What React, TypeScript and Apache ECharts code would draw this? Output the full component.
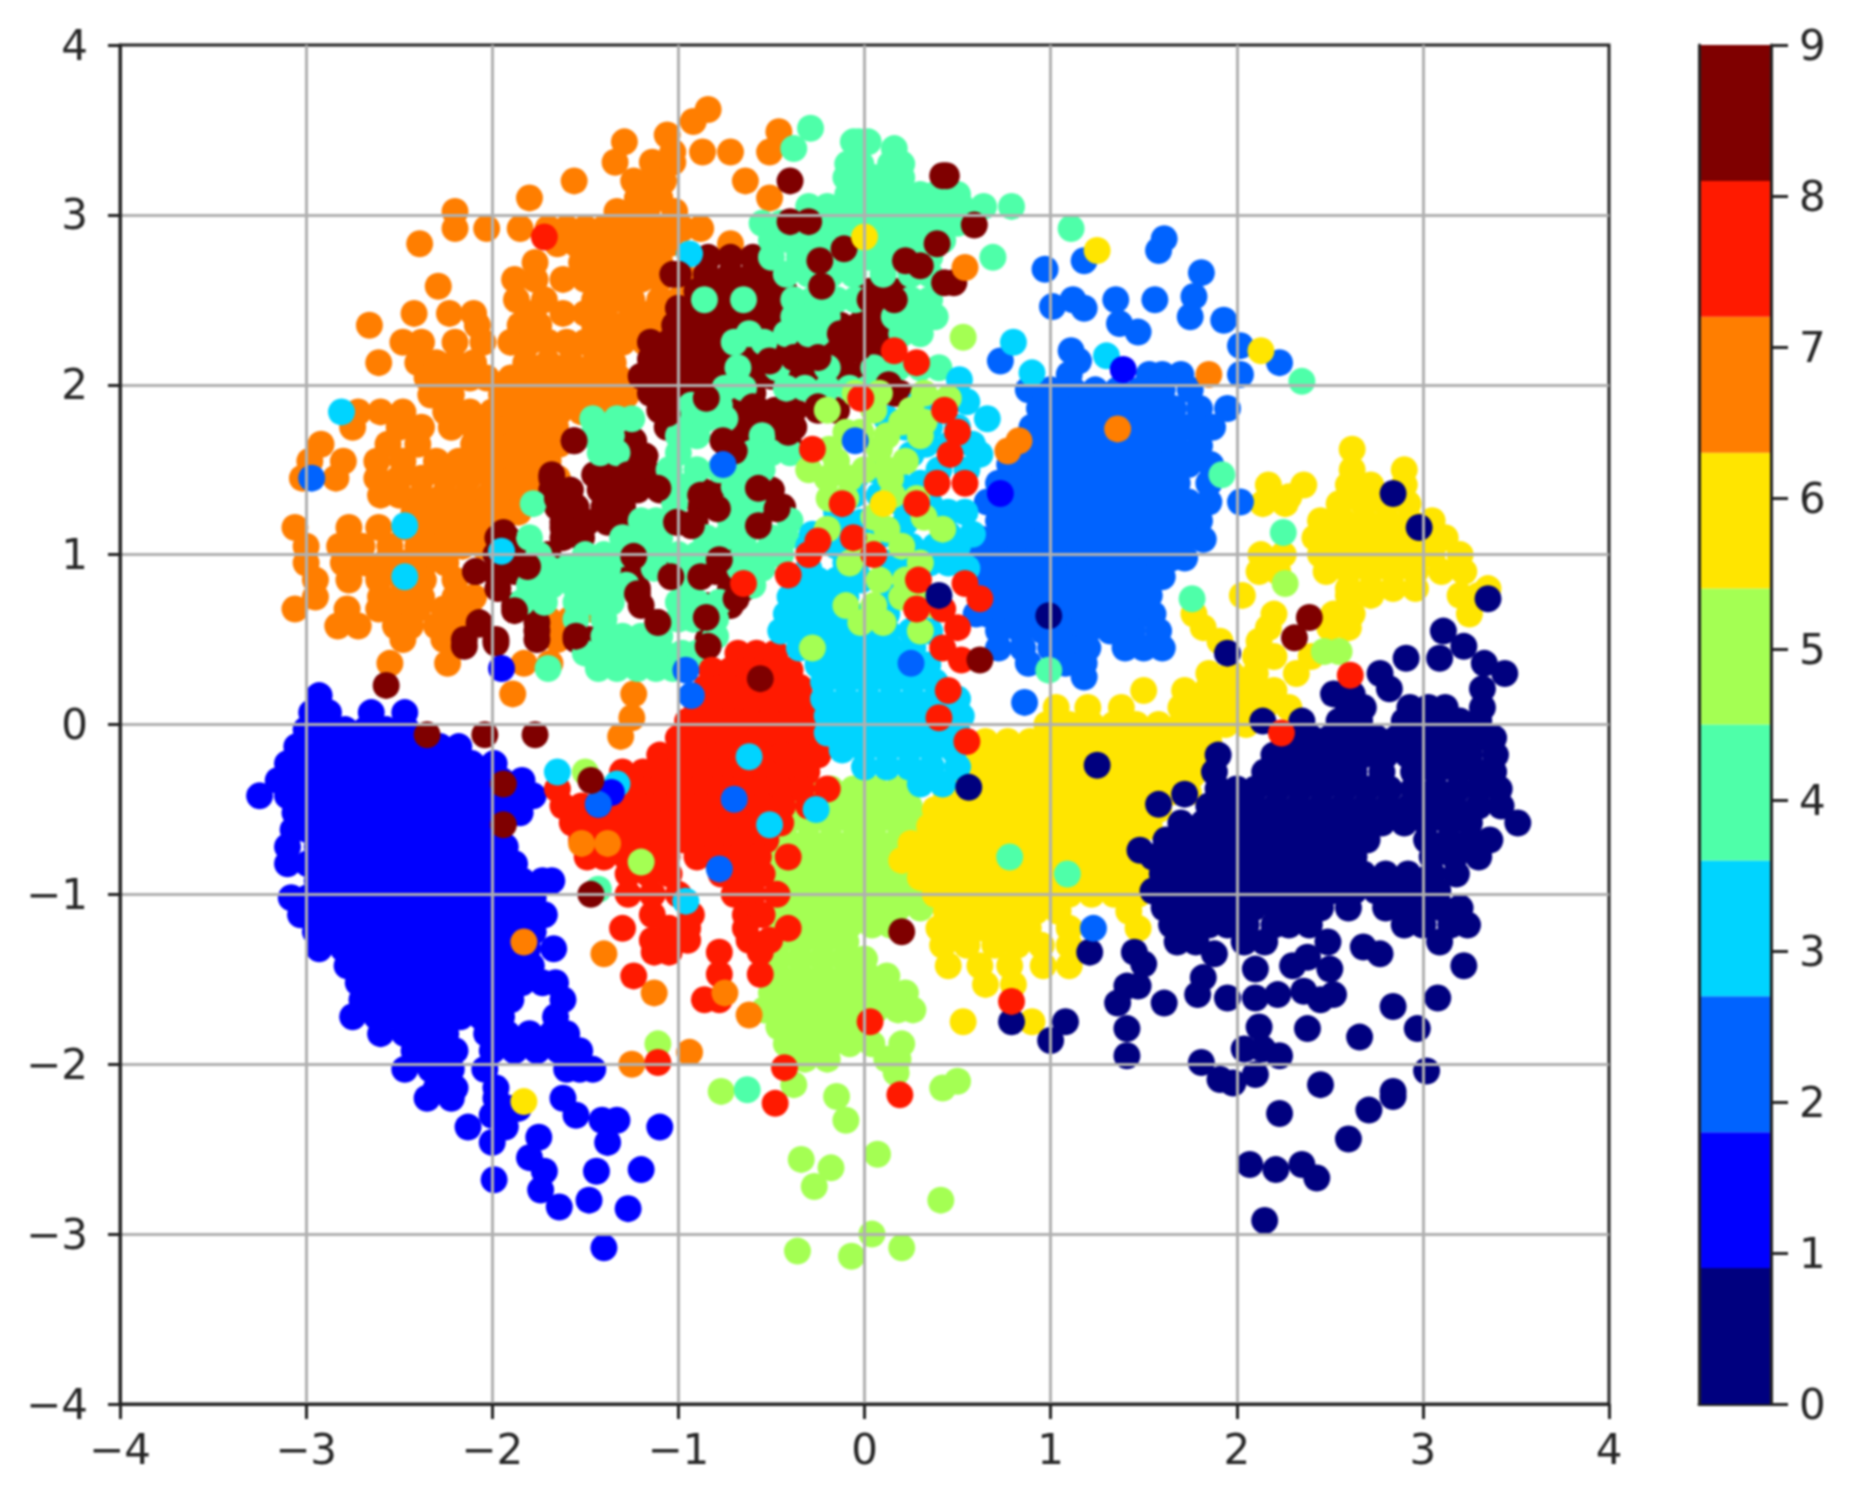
import * as echarts from 'echarts';
import React, { useEffect, useRef } from 'react';

// every row is [y, x, x, x ...]
const digit7Rows = [
  [3.62, -0.84], [3.55, -0.92], [3.49, -0.46], [3.47, -1.06], [3.43, -1.29],
  [3.37, -1.03, -0.87, -0.72, -0.51], [3.31, -1.34, -1.14, -1.03], [3.2, -1.56, -1.24, -1.14, -1.08, -0.64],
  [3.1, -1.8, -1.22, -1.1, -0.51], [3.02, -2.2, -1.33, -1.25, -1.17, -1.02],
  [2.92, -2.2, -2.03, -1.85, -1.7, -1.6, -1.5, -1.4, -1.3, -1.2, -1.1, -0.98, -0.88],
  [2.83, -2.39, -1.65, -1.55, -1.45, -1.35, -1.25, -1.15, -1.05, -0.72],
  [2.72, -1.77, -1.52, -1.42, -1.32, -1.22, -1.1],
  [2.62, -1.88, -1.77, -1.62, -1.5, -1.4, -1.3, -1.2, -1.1, -0.95], [2.58, -2.29],
  [2.5, -1.87, -1.72, -1.45, -1.35, -1.25, -1.1, -1.0],
  [2.42, -2.42, -2.23, -2.1, -1.78, -1.62, -1.5, -1.4, -1.25, -1.15, -1.02],
  [2.35, -2.66, -2.08, -1.85, -1.75, -1.45, -1.35, -1.25, -1.13],
  [2.25, -2.48, -2.38, -2.2, -2.05, -1.9, -1.8, -1.7, -1.6, -1.5, -1.4, -1.3, -1.18, -1.08],
  [2.13, -2.61, -2.4, -2.3, -2.2, -2.1, -1.82, -1.7, -1.58, -1.45, -1.35],
  [2.04, -2.35, -2.25, -2.12, -2.03, -1.9, -1.78, -1.66, -1.55, -1.43, -1.32],
  [1.94, -2.33, -2.22, -1.95, -1.85, -1.73, -1.62, -1.5, -1.38, -1.28],
  [1.84, -2.72, -2.6, -2.48, -2.25, -2.12, -2.0, -1.88, -1.76, -1.64, -1.52, -1.4, -1.3],
  [1.75, -2.75, -2.5, -2.38, -2.22, -2.1, -2.0, -1.9, -1.78, -1.66],
  [1.65, -2.92, -2.56, -2.4, -2.1, -2.0, -1.88, -1.76, -1.64],
  [1.55, -2.98, -2.8, -2.62, -2.48, -2.3, -2.18, -2.06, -1.94, -1.82, -1.7],
  [1.45, -3.02, -2.84, -2.62, -2.5, -2.38, -2.25, -2.13, -2.0, -1.88, -1.76, -1.65],
  [1.35, -2.6, -2.5, -2.38, -2.26, -2.14, -2.02, -1.9, -1.84],
  [1.25, -2.42, -2.3, -2.18, -2.06, -1.94, -1.86],
  [1.16, -3.06, -2.77, -2.61, -2.47, -2.36, -2.24, -2.12, -2.0],
  [1.05, -3.0, -2.82, -2.7, -2.55, -2.4, -2.28, -2.16, -2.05],
  [0.95, -3.0, -2.8, -2.68, -2.58, -2.47, -2.36, -2.25],
  [0.85, -2.95, -2.77, -2.61, -2.48, -2.37, -2.2], [0.75, -2.95, -2.6, -2.5, -2.38, -2.2, -2.1],
  [0.68, -3.06, -2.78, -2.61, -2.5, -2.4, -2.26, -2.13, -1.47], [0.62, -1.7, -1.58],
  [0.58, -2.83, -2.72, -2.52, -2.44, -2.3, -2.2], [0.5, -2.48, -2.26, -2.18, -1.65],
  [0.36, -2.55, -2.24, -1.83, -1.69, -1.42], [0.18, -1.89, -1.24], [0.04, -1.25], [-0.07, -1.31],
];

const digit9Rows = [
  [2.75, -0.84, -0.72, -0.6, -0.24], [2.65, -1.03, -0.85, -0.72, -0.6, -0.48, -0.24],
  [2.55, -0.9, -0.8, -0.68, -0.55, -0.43, -0.23, 0.03, 0.16], [2.45, -1.0, -0.88, -0.76, -0.64, -0.52, -0.42, 0.0, 0.1],
  [2.35, -1.02, -0.9, -0.78, -0.66, -0.54, -0.42, -0.13, -0.03, 0.08],
  [2.25, -1.15, -1.05, -0.93, -0.81, -0.7, -0.58, -0.46, -0.36, -0.15, -0.03, 0.07],
  [2.15, -1.15, -1.03, -0.9, -0.8, -0.68, -0.56, -0.44, -0.32, -0.22, -0.12, 0.02, 0.1],
  [2.05, -1.2, -1.08, -0.96, -0.84, -0.72, -0.62, -0.5, -0.38, -0.28, -0.16, -0.05, 0.13],
  [1.95, -1.15, -1.03, -0.92, -0.82, -0.7, -0.6, -0.4, 0.16], [1.85, -1.1, -1.0, -0.85, -0.68, -0.57, -0.48, -0.38, -0.25, -0.15],
  [1.75, -1.06, -0.68, -0.57, -0.47, -0.38], [1.67, -1.56, -1.24, -0.76, -0.66, -0.41], [1.58, -1.28, -1.18, -0.72],
  [1.47, -1.68, -1.45, -1.38, -1.27, -1.15], [1.38, -1.68, -1.58, -1.42, -1.33, -1.22, -1.1, -0.88, -0.78, -0.57, -0.5],
  [1.28, -1.65, -1.55, -1.4, -1.3, -0.88, -0.78, -0.68, -0.5, -0.44], [1.19, -1.62, -1.5, -1.38, -1.28, -1.0, -0.91, -0.57],
  [1.1, -1.97, -1.92, -1.62, -1.52], [1.0, -1.98, -1.9, -1.8, -1.7, -1.25, -0.82, -0.72],
  [0.9, -2.09, -1.98, -1.88, -1.78, -1.25, -1.04, -0.88, -0.8], [0.8, -1.97, -1.22, -0.72, -0.65],
  [0.7, -1.88, -1.78, -1.2, -0.85, -0.72], [0.6, -2.07, -1.76, -1.11, -0.85], [0.5, -2.15, -1.98, -1.76, -1.55, -1.48, -0.84],
];

const digit4Rows = [
  [3.51, -0.29], [3.43, -0.06, -0.03, 0.02], [3.39, -0.38, 0.16], [3.3, -0.09, -0.02, 0.14, 0.2],
  [3.22, -0.1, -0.05, 0.05, 0.12, 0.2], [3.12, -0.09, 0.0, 0.08, 0.18, 0.3, 0.38, 0.5],
  [3.05, -0.3, -0.2, -0.1, 0.0, 0.1, 0.2, 0.3, 0.42, 0.52, 0.64, 0.79], [2.95, -0.55, -0.45, -0.35, -0.22, -0.1, 0.0, 0.1, 0.2, 0.3, 0.4, 0.5],
  [2.85, -0.5, -0.4, -0.28, -0.18, -0.05, 0.07, 0.18, 0.28, 0.42], [2.75, -0.5, -0.35, -0.22, -0.1, 0.02, 0.12, 0.25, 0.35, 0.69],
  [2.65, -0.42, -0.3, -0.18, -0.06, 0.1, 0.25, 0.35], [2.5, -0.86, -0.65, -0.38, -0.28, -0.15, -0.05, 0.25, 0.35],
  [2.4, -0.38, -0.3, -0.2, 0.16, 0.28, 0.38], [2.3, -0.62, -0.42, -0.3, -0.25, 0.2, 0.3], [2.25, -0.7, -0.54],
  [2.1, -0.68, -0.47, -0.2, 0.05, 0.18, 0.3, 0.4], [1.98, -0.75, -0.65, -0.42, -0.32, -0.2, -0.08, 0.02],
  [1.88, -0.93, -0.78, -0.22], [1.8, -1.46, -1.33, -1.25, -0.95, -0.85, -0.75], [1.7, -1.46, -1.36, -1.0, -0.9, -0.55],
  [1.6, -1.42, -1.33, -1.0, -0.6, -0.5, -0.4], [1.5, -1.05, -0.9, -0.78, -0.66, -0.55], [1.4, -0.98, -0.7, -0.62],
  [1.3, -1.78, -1.02, -0.7, -0.6], [1.2, -1.2, -1.12, -0.72, -0.65, -0.4],
  [1.1, -1.8, -1.3, -1.2, -1.1, -0.85, -0.75, -0.65, -0.5, -0.42], [1.0, -1.75, -1.5, -1.4, -1.32, -1.12, -1.0, -0.9, -0.65, -0.55, -0.45],
  [0.92, -1.7, -1.6, -1.5, -1.38, -1.13, -0.95, -0.67, -0.55], [0.82, -1.8, -1.68, -1.56, -1.45, -1.35, -1.28, -0.96, -0.6],
  [0.72, -1.84, -1.72, -1.55, -1.46, -1.36, -1.0, -0.9, -0.78], [0.62, -1.55, -1.4, -1.0, -0.92, -0.8],
  [0.52, -1.4, -1.3, -1.2, -1.1, -0.8], [0.42, -1.5, -1.4, -1.28, -1.18, -1.08, -0.98, -0.9],
  [0.33, -1.7, -1.43, -1.33, -1.22, -1.12, -1.03],
];

const digit9TopRows = [
  [3.23, 0.42, 0.44], [3.2, -0.4], [2.96, -0.4, -0.3], [2.94, 0.59], [2.83, 0.39], [2.8, -0.11], [2.73, -0.24, 0.22], [2.7, 0.3],
  [2.6, 0.48, 0.43], [2.58, -0.23], [2.5, 0.03, 0.16], [2.3, -0.13], [2.22, -0.03], [2.16, -0.38, -0.25], [2.14, -0.51],
  [2.0, 0.13], [1.95, 0.19], [1.92, -0.85], [1.87, -0.6, -0.25], [1.83, -1.06], [1.72, -0.41], [1.67, -1.56, -0.76],
  [1.61, -0.7], [1.58, -1.18], [1.47, -1.27], [1.45, -1.68], [1.39, -1.11, -0.57], [1.35, -0.88], [1.33, -1.65, -1.33],
  [1.27, -0.79, -0.47], [1.22, -1.4], [1.19, -1.49, -1.01], [1.17, -0.57, -0.93], [1.16, -1.62], [1.13, -1.94],
  [0.99, -1.24], [0.97, -0.78], [0.93, -1.81], [0.9, -2.09], [0.87, -1.97, -1.04, -0.88], [0.77, -1.22], [0.74, -0.69],
  [0.67, -1.88], [0.63, -0.85], [0.6, -1.11], [0.59, -2.07], [0.55, -1.76], [0.52, -1.55], [0.48, -1.98], [0.46, -2.15, -0.84],
];

const digit5Rows = [
  [-0.38, -0.3, -0.18, -0.06, 0.06, 0.18], [-0.48, -0.36, -0.24, -0.12, 0.0, 0.12, 0.24],
  [-0.58, -0.42, -0.3, -0.18, -0.06, 0.06, 0.18, 0.3], [-0.68, -0.42, -0.3, -0.18, -0.06, 0.06, 0.18, 0.3],
  [-0.78, -0.44, -0.32, -0.2, -0.08, 0.04, 0.16, 0.28, 0.36], [-0.88, -0.42, -0.3, -0.18, -0.06, 0.06, 0.18, 0.3],
  [-0.98, -0.45, -0.33, -0.21, -0.09, 0.03, 0.15, 0.27], [-1.08, -0.42, -0.3, -0.18, -0.06, 0.06, 0.18, 0.3],
  [-1.18, -0.44, -0.32, -0.2, -0.08, 0.04, 0.14], [-1.28, -0.46, -0.34, -0.22, -0.1],
  [-1.38, -0.47, -0.35, -0.23, -0.11, 0.0], [-1.48, -0.46, -0.34, -0.22, -0.1, 0.02, 0.12],
  [-1.58, -0.5, -0.38, -0.26, -0.14, -0.02, 0.1, 0.22], [-1.68, -0.54, -0.42, -0.3, -0.18, -0.06, 0.06, 0.18, 0.26],
  [-1.78, -0.46, -0.34, -0.22, -0.1, -0.02], [-1.88, -0.42, -0.3, -0.18, -0.08, 0.04, 0.2, -1.11], [-1.97, -0.32, -0.2, 0.12, 0.18],
  [-2.05, 0.17], [-2.1, 0.5], [-2.12, -0.38], [-2.14, 0.42], [-2.16, -0.77], [-2.19, -0.15], [-2.33, -0.1],
  [-2.53, 0.07], [-2.56, -0.34], [-2.61, -0.18], [-2.72, -0.27], [-2.8, 0.41], [-3.0, 0.04], [-3.08, 0.2], [-3.1, -0.36], [-3.13, -0.07],
];

const digit6Rows = [
  [1.62, 2.62], [1.5, 2.62, 2.9], [1.41, 2.17, 2.36, 2.6, 2.72, 2.9], [1.34, 2.28], [1.3, 2.14, 2.26, 2.55, 2.68, 2.8, 2.92],
  [1.2, 2.45, 2.57, 2.69, 2.81, 2.93, 3.05], [1.1, 2.42, 2.54, 2.66, 2.78, 2.9, 3.02, 3.12], [1.0, 2.13, 2.25, 2.45, 2.57, 2.69, 2.81, 2.93, 3.05, 3.2],
  [0.9, 2.12, 2.22, 2.48, 2.6, 2.72, 2.84, 2.96, 3.1, 3.22], [0.8, 2.6, 2.72, 2.84, 2.96, 3.35], [0.76, 2.03, 2.6, 2.72, 3.2, 3.3],
  [0.65, 1.77, 2.2, 2.52, 2.62, 3.25], [0.57, 1.82, 2.17, 2.5, 2.6], [0.49, 1.91, 2.12], [0.4, 2.1, 2.2, 2.4],
  [0.3, 1.85, 1.97, 2.1, 2.32], [0.2, 1.5, 1.72, 1.84, 1.95, 2.07, 2.2], [0.1, 1.03, 1.2, 1.38, 1.7, 1.8, 1.92, 2.03, 2.15, 2.28],
  [0.0, 0.98, 1.1, 1.22, 1.34, 1.46, 1.58, 1.7, 1.82, 1.94, 2.05],
  [-0.1, 0.65, 0.77, 0.89, 1.01, 1.13, 1.25, 1.37, 1.49, 1.61, 1.73, 1.85],
  [-0.2, 0.6, 0.72, 0.84, 0.96, 1.08, 1.2, 1.32, 1.44, 1.56, 1.68, 1.8],
  [-0.3, 0.5, 0.62, 0.74, 0.86, 0.98, 1.1, 1.22, 1.34, 1.46, 1.58, 1.7, 1.76],
  [-0.4, 0.44, 0.56, 0.68, 0.8, 0.92, 1.04, 1.16, 1.28, 1.4, 1.52, 1.64, 1.74],
  [-0.5, 0.38, 0.5, 0.62, 0.74, 0.86, 0.98, 1.1, 1.22, 1.34, 1.46, 1.58],
  [-0.6, 0.35, 0.47, 0.59, 0.71, 0.83, 0.95, 1.07, 1.19, 1.31, 1.43, 1.53],
  [-0.7, 0.25, 0.37, 0.49, 0.61, 0.73, 0.85, 0.97, 1.09, 1.21, 1.33, 1.45],
  [-0.8, 0.2, 0.32, 0.44, 0.56, 0.68, 0.8, 0.92, 1.04, 1.16, 1.28, 1.4, 1.47],
  [-0.9, 0.3, 0.42, 0.54, 0.66, 0.78, 0.9, 1.02, 1.14, 1.26, 1.38, 1.5],
  [-1.0, 0.38, 0.5, 0.62, 0.74, 0.86, 0.98, 1.1, 1.22, 1.34, 1.47],
  [-1.1, 0.44, 0.56, 0.68, 0.8, 0.92, 1.04, 1.42], [-1.2, 0.4, 0.52, 0.64, 0.76, 0.88, 1.1, 1.47],
  [-1.3, 0.42, 0.55, 0.7, 0.82, 0.95, 1.1], [-1.42, 0.45, 0.62, 0.78, 0.96, 1.1], [-1.53, 0.65, 0.8], [-1.75, 0.53, 0.9],
];

const digit0Rows = [
  [0.74, 3.35], [0.55, 3.11], [0.46, 3.22], [0.39, 2.91, 3.09], [0.36, 3.33], [0.3, 2.77, 3.44], [0.21, 2.82, 3.32], [0.18, 2.52, 2.62],
  [0.1, 2.6, 2.68, 2.93, 3.03, 3.12, 3.32], [0.02, 2.14, 2.35, 2.55, 2.66, 2.9, 3.0, 3.1, 3.2, 3.3],
  [-0.08, 2.28, 2.4, 2.5, 2.62, 2.75, 2.86, 2.98, 3.1, 3.2, 3.3, 3.38],
  [-0.18, 1.9, 2.2, 2.32, 2.44, 2.56, 2.68, 2.8, 2.92, 3.04, 3.16, 3.25, 3.39],
  [-0.28, 1.88, 2.15, 2.27, 2.39, 2.51, 2.63, 2.78, 2.95, 3.07, 3.19, 3.3, 3.38],
  [-0.38, 1.9, 2.0, 2.1, 2.22, 2.34, 2.46, 2.58, 2.7, 2.82, 2.95, 3.07, 3.19, 3.3, 3.41],
  [-0.48, 1.85, 1.97, 2.09, 2.21, 2.33, 2.45, 2.57, 2.69, 2.81, 2.93, 3.05, 3.17, 3.3, 3.42],
  [-0.58, 1.7, 1.82, 1.94, 2.06, 2.18, 2.3, 2.42, 2.54, 2.66, 2.78, 2.9, 3.02, 3.14, 3.25, 3.51],
  [-0.68, 1.62, 1.74, 1.86, 1.98, 2.1, 2.22, 2.34, 2.46, 2.58, 2.7, 3.02, 3.14, 3.26, 3.36],
  [-0.78, 1.55, 1.67, 1.79, 1.91, 2.03, 2.15, 2.27, 2.39, 2.51, 2.63, 3.05, 3.17, 3.3],
  [-0.88, 1.6, 1.72, 1.84, 1.96, 2.08, 2.2, 2.32, 2.44, 2.56, 2.68, 2.8, 2.92, 3.05, 3.18],
  [-0.98, 1.55, 1.67, 1.79, 1.91, 2.03, 2.15, 2.27, 2.39, 2.51, 2.63, 2.75, 2.87, 2.99, 3.08],
  [-1.08, 1.61, 1.73, 1.85, 1.97, 2.09, 2.21, 2.33, 2.45, 2.6, 2.8, 2.92, 3.04, 3.1, 3.2],
  [-1.18, 1.65, 1.75, 1.85, 1.95, 2.05, 2.2, 2.28, 2.39, 2.9, 3.0, 3.15, 3.24], [-1.28, 1.68, 1.78, 2.04, 2.15, 2.49, 3.09],
  [-1.31, 2.68], [-1.35, 2.77, 1.88], [-1.34, 1.21, 1.45], [-1.41, 1.5], [-1.42, 2.3, 3.22], [-1.37, 2.38], [-1.44, 2.1, 2.5],
  [-1.49, 1.82], [-1.54, 1.41, 1.47], [-1.57, 2.36], [-1.59, 1.79, 2.22, 2.52], [-1.61, 1.95, 2.1, 3.08], [-1.62, 2.45],
  [-1.64, 1.36, 1.61], [-1.66, 2.84], [-1.75, 0.79, 1.08], [-1.78, 2.12], [-1.79, 1.41, 2.38, 2.97], [-1.84, 2.66], [-1.86, 1.0],
  [-1.91, 2.04, 2.14], [-1.95, 1.41, 2.23], [-1.99, 1.81], [-2.04, 3.02], [-2.06, 2.1], [-2.09, 1.91], [-2.11, 1.98], [-2.12, 2.45],
  [-2.16, 2.84], [-2.19, 2.84], [-2.27, 2.71], [-2.29, 2.23], [-2.44, 2.6], [-2.59, 2.07], [-2.62, 2.21], [-2.59, 2.35], [-2.67, 2.43], [-2.92, 2.15],
];

const digit1Rows = [
  [0.17, -2.93], [0.07, -2.97, -2.88, -2.65, -2.47], [-0.03, -3.0, -2.9, -2.79, -2.68, -2.57, -2.46],
  [-0.13, -3.05, -2.94, -2.83, -2.72, -2.61, -2.5, -2.39, -2.28, -2.18],
  [-0.23, -3.1, -2.99, -2.88, -2.77, -2.66, -2.55, -2.44, -2.33, -2.22, -2.11, -1.99],
  [-0.33, -3.15, -3.05, -2.94, -2.83, -2.72, -2.61, -2.5, -2.39, -2.28, -2.17, -2.06, -1.95, -1.84],
  [-0.42, -3.25, -3.1, -2.99, -2.88, -2.77, -2.66, -2.55, -2.44, -2.33, -2.22, -2.11, -2.0, -1.89, -1.78],
  [-0.52, -3.06, -2.94, -2.83, -2.72, -2.61, -2.5, -2.39, -2.28, -2.17, -2.06, -1.95, -1.85],
  [-0.62, -3.07, -2.99, -2.88, -2.77, -2.66, -2.55, -2.44, -2.33, -2.22, -2.11, -1.98],
  [-0.72, -3.1, -2.94, -2.83, -2.72, -2.61, -2.5, -2.39, -2.28, -2.17, -2.06, -1.93],
  [-0.82, -3.1, -2.99, -2.88, -2.77, -2.66, -2.55, -2.44, -2.33, -2.22, -2.11, -2.0, -1.88],
  [-0.92, -2.94, -2.83, -2.72, -2.61, -2.5, -2.39, -2.28, -2.17, -2.06, -1.95, -1.84, -1.73, -1.68],
  [-1.02, -3.08, -2.99, -2.88, -2.77, -2.66, -2.55, -2.44, -2.33, -2.22, -2.11, -2.0, -1.89, -1.78],
  [-1.12, -3.03, -2.94, -2.83, -2.72, -2.61, -2.5, -2.39, -2.28, -2.17, -2.06, -1.95, -1.84, -1.72],
  [-1.22, -2.95, -2.85, -2.74, -2.63, -2.52, -2.41, -2.3, -2.19, -2.08, -1.97, -1.86, -1.78],
  [-1.32, -2.93, -2.8, -2.69, -2.58, -2.47, -2.36, -2.25, -2.14, -2.03, -1.92, -1.81, -1.67],
  [-1.42, -2.78, -2.67, -2.56, -2.45, -2.34, -2.23, -2.12, -2.01, -1.9, -1.79],
  [-1.52, -2.72, -2.61, -2.5, -2.39, -2.28, -2.17, -2.06, -1.95, -1.84, -1.73, -1.66],
  [-1.62, -2.7, -2.58, -2.47, -2.36, -2.25, -2.14, -2.03, -1.9, -1.62],
  [-1.72, -2.75, -2.62, -2.5, -2.39, -2.28, -2.17, -2.06, -1.95, -1.66],
  [-1.82, -2.6, -2.47, -2.36, -2.25, -2.03, -1.92, -1.8, -1.68, -1.6],
  [-1.92, -2.42, -2.3, -2.2, -2.0, -1.88, -1.76, -1.64, -1.53], [-2.03, -2.47, -2.33, -2.22, -2.04, -1.6, -1.53, -1.46],
  [-2.14, -2.3, -2.2, -1.98], [-2.2, -2.35, -2.22, -1.98, -1.62], [-2.26, -1.9, -1.86], [-2.3, -2.0, -1.55],
  [-2.33, -1.41, -1.33], [-2.37, -2.13, -1.93, -1.1], [-2.43, -1.75], [-2.46, -2.0, -1.38], [-2.55, -1.8],
  [-2.62, -1.2], [-2.63, -1.72, -1.44], [-2.68, -1.99], [-2.74, -1.74], [-2.8, -1.48], [-2.84, -1.64], [-2.85, -1.27], [-3.08, -1.4],
];

const digit2Rows = [
  [2.86, 1.61], [2.79, 1.58], [2.73, 1.18], [2.68, 0.97], [2.66, 1.81], [2.52, 1.77], [2.5, 1.12, 1.35, 1.56], [2.46, 1.01], [2.45, 1.18],
  [2.4, 1.75], [2.38, 1.93], [2.36, 1.37], [2.31, 1.47], [2.23, 2.02], [2.2, 1.11], [2.14, 0.73, 1.15], [2.13, 2.23], [2.06, 1.1, 1.53, 1.6, 1.7, 2.02],
  [1.97, 0.88, 1.0, 1.12, 1.24, 1.36, 1.48, 1.6, 1.75], [1.86, 0.94, 1.06, 1.18, 1.3, 1.42, 1.54, 1.66, 1.8, 1.95],
  [1.75, 0.9, 1.02, 1.14, 1.26, 1.38, 1.5, 1.62, 1.74, 1.87], [1.64, 0.83, 0.95, 1.07, 1.19, 1.31, 1.43, 1.55, 1.67, 1.8],
  [1.53, 0.78, 0.9, 1.02, 1.14, 1.26, 1.38, 1.5, 1.62, 1.74, 1.86], [1.42, 0.72, 0.84, 0.96, 1.08, 1.2, 1.32, 1.44, 1.56, 1.68, 1.85],
  [1.31, 0.66, 0.78, 0.9, 1.02, 1.14, 1.26, 1.38, 1.5, 1.62, 1.74, 1.85, 2.02],
  [1.2, 0.72, 0.84, 0.96, 1.08, 1.2, 1.32, 1.44, 1.56, 1.68, 1.8],
  [1.09, 0.63, 0.75, 0.87, 0.99, 1.11, 1.23, 1.35, 1.47, 1.59, 1.71, 1.82],
  [0.98, 0.6, 0.69, 0.81, 0.93, 1.05, 1.17, 1.29, 1.41, 1.53, 1.65, 1.72], [0.87, 0.64, 0.76, 0.88, 1.0, 1.12, 1.24, 1.36, 1.48, 1.6],
  [0.76, 0.72, 0.84, 0.96, 1.08, 1.2, 1.32, 1.44, 1.53], [0.65, 0.6, 0.66, 0.78, 0.9, 1.02, 1.14, 1.26, 1.38, 1.5, 1.55],
  [0.55, 0.72, 0.84, 0.96, 1.08, 1.2, 1.32, 1.44, 1.58], [0.45, 0.72, 0.85, 1.0, 1.1, 1.2, 1.4, 1.5, 1.6], [0.36, 0.88, 1.08, 1.18],
  [0.28, 1.18], [0.13, 0.86],
];

const digit8Rows = [
  [0.42, -0.68, -0.58, -0.48], [0.32, -0.82, -0.72, -0.62, -0.5, -0.4], [0.22, -0.85, -0.75, -0.65, -0.55, -0.45, -0.35],
  [0.12, -0.9, -0.8, -0.7, -0.6, -0.5, -0.4, -0.3], [0.02, -0.95, -0.84, -0.73, -0.62, -0.51, -0.4, -0.3],
  [-0.08, -1.0, -0.9, -0.79, -0.68, -0.57, -0.46, -0.35, -0.25], [-0.18, -1.1, -0.99, -0.88, -0.77, -0.66, -0.55, -0.44, -0.33, -0.25],
  [-0.28, -1.3, -1.19, -1.08, -0.97, -0.86, -0.75, -0.64, -0.53, -0.42, -0.31],
  [-0.38, -1.65, -1.33, -1.22, -1.11, -1.0, -0.89, -0.78, -0.67, -0.56, -0.45, -0.34, -0.2],
  [-0.48, -1.62, -1.52, -1.42, -1.32, -1.21, -1.1, -0.99, -0.88, -0.77, -0.66, -0.55, -0.44, -0.3],
  [-0.58, -1.57, -1.46, -1.35, -1.24, -1.13, -1.02, -0.91, -0.8, -0.69, -0.58, -0.45],
  [-0.68, -1.52, -1.42, -1.3, -1.19, -1.08, -0.97, -0.86, -0.75, -0.64, -0.53],
  [-0.78, -1.49, -1.4, -1.28, -1.17, -1.06, -0.9, -0.79, -0.68, -0.57, -0.41], [-0.88, -1.27, -1.16, -1.05, -0.77, -0.66, -0.55],
  [-1.0, -1.27, -1.14, -1.0, -0.7, -0.6, -0.47], [-1.12, -1.14, -0.93, -0.64, -0.55], [-1.2, -1.3, -1.05, -0.95, -0.64, -0.41],
  [-1.27, -1.14, -0.95, -0.51, -0.62], [-1.34, -1.13, -1.05, -0.78, -0.56], [-1.47, -0.78, -0.56], [-1.48, -1.24], [-1.62, -0.86, -0.78],
];

const digit3Rows = [
  [1.9, 0.3, 0.55], [1.75, 0.22, 0.35, 0.5], [1.65, 0.33, 0.46, 0.58], [1.5, 0.05, 0.4, 0.55], [1.45, -0.05], [1.3, 0.2, 0.35],
  [1.12, -0.28, 0.1, 0.45, 0.58], [0.92, -0.3, -0.05, 0.2, 0.55],
  [0.85, -0.35, -0.25, -0.15, -0.02], [0.75, -0.4, -0.3, -0.2, -0.1, 0.15], [0.65, -0.42, -0.32, -0.22, -0.1, 0.02, 0.12],
  [0.55, -0.45, -0.35, -0.25, -0.13, 0.0, 0.12, 0.25, 0.35], [0.45, -0.35, -0.22, -0.1, 0.02, 0.14, 0.26],
  [0.35, -0.25, -0.13, -0.02, 0.1, 0.22, 0.34], [0.25, -0.22, -0.1, 0.02, 0.14, 0.26, 0.38], [0.15, -0.22, -0.1, 0.02, 0.14, 0.26, 0.38, 0.5],
  [0.05, -0.2, -0.08, 0.04, 0.16, 0.28, 0.4, 0.52], [-0.05, -0.2, -0.08, 0.04, 0.16, 0.28, 0.4, 0.5], [-0.15, -0.12, 0.0, 0.12, 0.24, 0.36, 0.48],
  [-0.25, 0.0, 0.12, 0.24, 0.36, 0.5], [-0.35, 0.3, 0.42], [1.25, 0.45, 0.54, -0.15], [1.19, -0.12, -0.02, 0.22], [1.05, 0.5, 0.38, 0.25, -0.15, -0.3],
  [0.95, 0.35, 0.45, 0.12, -0.1], [1.59, 0.25, 0.62], [1.8, 0.66, 0.12], [2.03, 0.51], [2.07, 0.9], [2.17, 1.3], [2.25, 0.8], [1.42, 0.18, 0.3], [1.35, -0.06, 0.08],
];

const digit5MixRows = [
  [2.28, 0.53], [1.95, -0.05, 0.08, 0.32], [1.92, 0.45], [1.85, -0.2, 0.05, 0.25], [1.78, 0.2, 0.32], [1.72, -0.1, -0.02], [1.7, 0.12, 0.3],
  [1.62, -0.19, 0.08], [1.55, -0.15, 0.22], [1.5, -0.3, 0.0, 0.12], [1.45, -0.2, -0.08, 0.14], [1.35, 0.15],
  [1.33, -0.19, -0.1, 0.28], [1.22, 0.05, 0.32], [1.15, -0.2, 0.12, 0.42], [1.05, 0.02, 0.2], [0.95, -0.08, 0.3], [0.85, 0.08, 0.22], [0.75, 0.2, 0.3],
  [0.7, 0.05, -0.1, 0.38], [0.6, -0.02, 0.1], [0.55, 0.3], [0.45, -0.28],
];

const digit3StrayRows = [
  [2.77, -0.94], [1.84, -2.81], [1.17, -2.47], [1.02, -1.95], [0.87, -2.47], [-0.19, -0.62], [-0.28, -1.65], [-0.35, -1.33], [-0.5, -0.26], [-0.59, -0.51], [-1.04, -0.96],
];
const digit4StrayRows = [
  [2.92, 1.11], [2.02, 2.35], [1.47, 1.92], [1.13, 2.25], [0.74, 1.76], [0.32, 0.99], [-0.78, 0.78], [-0.88, 1.09], [-0.97, -1.43], [-2.15, -0.63],
];
const digit5StrayRows = [
  [0.83, 2.26], [0.43, 2.47, 2.55], [-0.28, -1.5], [-0.81, -1.2],
];
const digit6StrayRows = [
  [2.87, 0.0], [2.79, 1.25], [2.2, 2.13], [1.3, 0.1], [-2.22, -1.83],
];
const digit7StrayRows = [
  [2.69, 0.54], [2.06, 1.85], [1.74, 1.36], [1.67, 0.83], [1.61, 0.77], [-0.7, -1.52, -1.38], [-1.28, -1.83], [-1.35, -1.4], [-1.58, -1.13, -0.75],
  [-1.71, -0.62], [-1.93, -0.94], [-2.0, -1.25],
];
const digit8StrayRows = [
  [2.87, -1.72], [2.2, 0.16], [2.13, 0.28], [1.92, -0.02], [1.85, 0.43], [1.72, 0.5], [1.62, -0.28], [1.59, 0.46], [1.42, 0.54, 0.39], [1.3, 0.28, -0.12],
  [1.1, -0.06], [1.08, -0.25], [1.0, 0.05, -0.3], [0.88, -0.41], [0.85, 0.29], [0.83, 0.54, -0.65], [0.74, 0.62], [0.68, 0.28, 0.42], [0.57, 0.5], [0.45, 0.42],
  [0.38, 0.52], [0.29, 2.61], [0.2, 0.45], [0.04, 0.4], [-0.05, 2.24], [-0.1, 0.55], [-1.63, 0.79], [-1.75, 0.03], [-1.99, -1.11], [-2.02, -0.43],
  [-2.18, 0.19], [-2.23, -0.48],
];
const digit0StrayRows = [
  [1.36, 2.84], [1.16, 2.98], [0.76, 0.4], [0.64, 0.99], [0.42, 1.95], [-0.24, 1.25], [-0.37, 0.56], [-0.41, 1.72], [-0.47, 1.58], [-0.74, 1.48],
];
const digit1StrayRows = [
  [2.09, 1.39], [1.36, 0.73], [0.33, -1.95], [-0.47, -1.43], [-0.4, -1.36],
];
const digit2StrayRows = [
  [1.67, -0.05], [1.53, -0.76], [1.45, -2.97], [0.36, 0.25], [0.32, -0.96], [0.17, -0.93], [-0.44, -0.7], [-0.47, -1.43], [-0.85, -0.78], [-1.2, 1.23],
];
const digit9StrayRows = [
  [2.65, -1.0], [0.63, 2.39], [0.51, 2.31], [0.38, 0.62], [0.27, -0.56], [0.23, -2.57], [-0.06, -2.35, -2.04, -1.77], [-0.33, -1.47], [-0.35, -1.94], [-0.59, -1.94],
  [-1.0, -1.47], [-1.22, 0.2],
];

const jetColors = ['#00007f', '#0000ff', '#0063ff', '#00d4ff', '#4effa9', '#a4ff53', '#ffe500', '#ff7e00', '#ff1a00', '#7f0000'];
const colorbarBands = [0.9, 0.9, 0.9, 0.9, 0.9, 0.9, 0.9, 0.9, 0.9, 0.9];

// drawn in this order, later layers cover earlier ones
const layers: [number, number[][]][] = [
  [7, digit7Rows], [9, digit9Rows], [4, digit4Rows], [9, digit9TopRows], [5, digit5Rows], [6, digit6Rows], [0, digit0Rows],
  [1, digit1Rows], [2, digit2Rows], [8, digit8Rows], [3, digit3Rows], [5, digit5MixRows],
  [3, digit3StrayRows], [4, digit4StrayRows], [5, digit5StrayRows], [6, digit6StrayRows], [7, digit7StrayRows],
  [8, digit8StrayRows], [0, digit0StrayRows], [1, digit1StrayRows], [2, digit2StrayRows], [9, digit9StrayRows],
];

const rowsToPoints = (rows: number[][]) => rows.flatMap(([y, ...xs]) => xs.map((x) => [x, y]));
const minusLabel = (v: number) => String(v).replace('-', '\u2212');

const FONT = { fontFamily: 'DejaVu Sans', fontSize: 42, color: '#262626' };
const LINE = { color: '#222222', width: 3 };

const App: React.FC = () => {
  const chartRef = useRef<HTMLDivElement>(null);

  useEffect(() => {
    if (!chartRef.current) return;
    const chart = echarts.init(chartRef.current, undefined, { renderer: 'svg' });

    const mainAxis = {
      type: 'value',
      min: -4,
      max: 4,
      interval: 1,
      z: 5,
      axisLine: { onZero: false, lineStyle: LINE },
      axisLabel: { ...FONT, formatter: minusLabel, showMinLabel: true, showMaxLabel: true },
      splitLine: { show: true, showMinLine: false, showMaxLine: false, lineStyle: { color: '#b0b0b0', width: 3 } },
    };

    chart.setOption({
      animation: false,
      backgroundColor: '#ffffff',
      grid: [
        { left: 120, right: 250, top: 45, bottom: 91, show: true, borderColor: '#222222', borderWidth: 3, backgroundColor: 'transparent' },
        { left: 1699, width: 72, top: 45, bottom: 91 },
      ],
      xAxis: [
        { ...mainAxis, gridIndex: 0, axisTick: { length: 15, lineStyle: LINE }, axisLabel: { ...mainAxis.axisLabel, margin: 24 } },
        { type: 'category', gridIndex: 1, data: ['bar'], axisLabel: { show: false }, axisTick: { show: false }, axisLine: { lineStyle: LINE } },
      ],
      yAxis: [
        { ...mainAxis, gridIndex: 0, axisTick: { length: 12, lineStyle: LINE }, axisLabel: { ...mainAxis.axisLabel, margin: 32 } },
        {
          type: 'value', gridIndex: 1, position: 'right', min: 0, max: 9, interval: 1, z: 5,
          axisLine: { show: true, lineStyle: LINE },
          axisTick: { show: true, length: 17, lineStyle: LINE },
          axisLabel: { ...FONT, margin: 28 },
          splitLine: { show: false },
        },
        {
          type: 'value', gridIndex: 1, position: 'left', min: 0, max: 9, interval: 1, z: 5,
          axisLine: { show: true, lineStyle: LINE }, axisTick: { show: false }, axisLabel: { show: false }, splitLine: { show: false },
        },
      ],
      series: [
        ...layers.map(([digit, rows]) => ({
          type: 'scatter',
          xAxisIndex: 0,
          yAxisIndex: 0,
          z: 2,
          symbolSize: 27,
          itemStyle: { color: jetColors[digit], opacity: 1 },
          silent: true,
          data: rowsToPoints(rows),
        })),
        ...colorbarBands.map((band, i) => ({
          type: 'bar',
          xAxisIndex: 1,
          yAxisIndex: 1,
          stack: 'colorbar',
          barWidth: '100%',
          silent: true,
          itemStyle: { color: jetColors[i] },
          data: [band],
        })),
      ],
    });

    return () => chart.dispose();
  }, []);

  return <div ref={chartRef} style={{ position: 'absolute', left: 0, top: 0, width: 1859, height: 1495, filter: 'blur(1px)' }} />;
};

export default App;
